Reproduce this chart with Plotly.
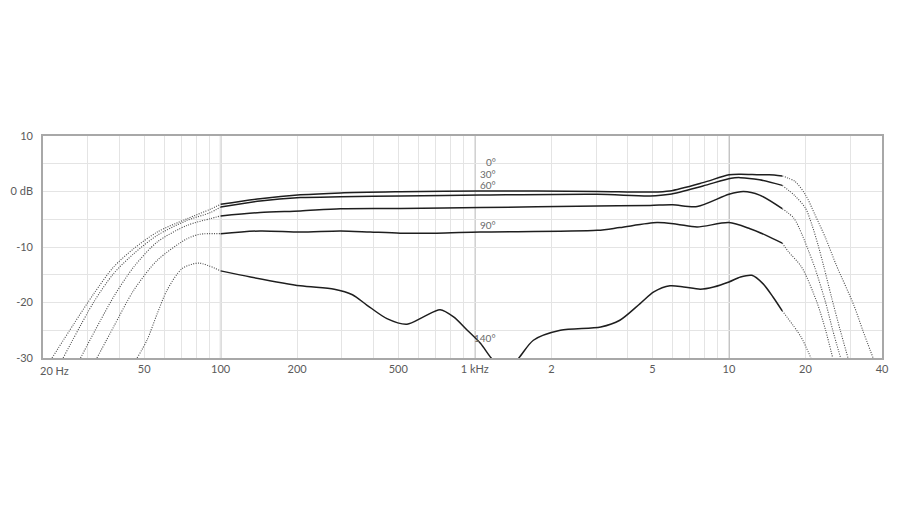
import numpy as np
import plotly.graph_objects as go

# frequency response per angle of incidence (Hz, dB)
freq_0 = [21.7, 26.4, 31.7, 37.9, 45.5, 56.3, 73.8, 91, 100, 143, 206, 296, 509, 1050, 3030, 4900, 5850,
          7900, 10000, 11100, 13200, 14400, 16200, 18200, 20000, 21800, 24000, 26400, 31000, 33600, 36900]
db_0 = [-30, -23.9, -18.4, -13.6, -10.3, -7.3, -4.9, -3.2, -2.3, -1.3, -0.6, -0.25, -0.05, 0.1, 0.0, -0.1, 0.1,
        1.6, 3.0, 3.1, 3.0, 3.0, 2.8, 1.8, -0.6, -4.2, -8.4, -13.2, -20.5, -25, -30]

freq_30 = [24.0, 31.7, 37.9, 45.5, 56.3, 73.8, 91, 100, 143, 206, 296, 509, 1050, 3030, 4900, 5850, 7900,
           10200, 11100, 13200, 16200, 18200, 20000, 21200, 22400, 23600, 25300, 27400, 29400]
db_30 = [-30, -19.9, -14.8, -11.2, -7.9, -5.2, -3.8, -2.8, -1.7, -1.1, -0.95, -0.8, -0.65, -0.5, -0.8, -0.5, 1.0,
         2.4, 2.5, 2.1, 1.1, -0.8, -3.0, -6.0, -9.6, -13.5, -19.0, -25, -30]

freq_60 = [28.1, 37.9, 45.5, 56.3, 73.8, 91, 100, 143, 206, 296, 509, 1050, 3030, 4900, 6000, 7500, 10000,
           11400, 13200, 16200, 18000, 19400, 20600, 21800, 24000, 25600, 27500]
db_60 = [-30, -19, -13.6, -9.1, -6.1, -4.9, -4.4, -3.8, -3.5, -3.1, -3.05, -2.9, -2.6, -2.5, -2.4, -2.7, -0.5,
         0.0, -0.65, -3.1, -4.8, -7.8, -10.8, -13.8, -20, -25, -30]

freq_90 = [32.6, 37.9, 45.5, 56.3, 73.8, 83, 100, 143, 206, 296, 388, 509, 708, 1050, 3030, 3720, 5210, 6240,
           7490, 10000, 12100, 14000, 16200, 17100, 19300, 22200, 24000, 25600]
db_90 = [-30, -24.4, -17.8, -12.4, -8.5, -7.7, -7.6, -7.1, -7.3, -7.1, -7.3, -7.5, -7.5, -7.3, -7.0, -6.5, -5.6, -5.9,
         -6.4, -5.6, -6.7, -7.9, -9.3, -10.8, -13.6, -20, -25, -30]

freq_140 = [46.9, 51.3, 56.3, 61.5, 70.5, 82, 100, 131, 206, 280, 330, 377, 451, 541, 628, 730, 825, 934, 1054,
            1160, 1320, 1490, 1700, 2170, 3130, 3720, 4470, 5060, 5860, 6630, 7720, 8700, 10000, 11100, 12300,
            13600, 14900, 16200, 19200, 21000]
db_140 = [-30, -26.8, -22, -17.8, -13.9, -12.9, -14.3, -15.4, -17.0, -17.6, -18.6, -20.5, -22.9, -23.9, -22.6,
          -21.3, -22.6, -25, -27.4, -30, -32.5, -30, -26.8, -25, -24.4, -23.2, -20.2, -18.1, -17, -17.2, -17.6,
          -17.2, -16.3, -15.4, -15.1, -16.6, -19, -21.5, -26.2, -30]

curves = [("0°", freq_0, db_0), ("30°", freq_30, db_30), ("60°", freq_60, db_60),
          ("90°", freq_90, db_90), ("140°", freq_140, db_140)]

# measured band (solid), outside of it the curves are dotted
SOLID_LO, SOLID_HI = 100, 16200

x_tickvals = [20, 50, 100, 200, 500, 1000, 2000, 5000, 10000, 20000, 40000]
x_ticktext = ["", "50", "100", "200", "500", "1 kHz", "2", "5", "10", "20", "40"]
x_minor = [30, 40, 60, 70, 80, 90, 300, 400, 600, 700, 800, 900, 3000, 4000, 6000, 7000, 8000, 9000, 30000]
y_tickvals = [-30, -25, -20, -15, -10, -5, 0, 5, 10]
y_ticktext = ["-30", "", "-20", "", "-10", "", "0 dB", "", "10"]
label_db = {"0°": 5.4, "30°": 3.2, "60°": 1.1, "90°": -6.1, "140°": -26.4}

FONT = "Lato, 'Open Sans', sans-serif"
X_LO, X_HI = np.log10(20), np.log10(40000)

fig = go.Figure()

for name, f, db in curves:
    f = np.array(f, dtype=float)
    db = np.array(db, dtype=float)
    parts = [(f <= SOLID_LO, "dot"), ((f >= SOLID_LO) & (f <= SOLID_HI), "solid"), (f >= SOLID_HI, "dot")]
    for mask, style in parts:
        solid = style == "solid"
        fig.add_trace(go.Scatter(
            x=f[mask], y=db[mask], mode="lines", name=name, showlegend=False, hoverinfo="skip",
            line=dict(color="#1e1e1e" if solid else "#4a4a4a", width=1.5 if solid else 1.1,
                      dash="solid" if solid else "1px,1.4px", shape="spline", smoothing=0.8)))

# darker decade lines at 100 Hz, 1 kHz, 10 kHz
for dec in [100, 1000, 10000]:
    pos = (np.log10(dec) - X_LO) / (X_HI - X_LO)
    fig.add_shape(type="line", xref="x domain", yref="y domain", x0=pos, x1=pos, y0=0, y1=1,
                  line=dict(color="#b4b4b4", width=1.6), layer="below")

for name, _, _ in curves:
    fig.add_annotation(x=np.log10(1235), y=label_db[name], text=name, showarrow=False, xanchor="right",
                       font=dict(family=FONT, size=10, color="#6a6a6a"))

# first x label sits to the right of its tick
fig.add_annotation(x=X_LO, y=-30, text="20 Hz", showarrow=False, xanchor="left", yanchor="top",
                   xshift=-5, yshift=-4, font=dict(family=FONT, size=11, color="#5a5a5a"))

# the page body has an 8px margin, so the margins are shifted by that amount
fig.update_layout(
    width=906, height=511,
    margin=dict(l=35, r=32, t=128, b=161, autoexpand=False),
    paper_bgcolor="white", plot_bgcolor="white",
    font=dict(family=FONT, size=11, color="#5a5a5a"),
    xaxis=dict(type="log", range=[X_LO, X_HI], tickmode="array", tickvals=x_tickvals, ticktext=x_ticktext,
               showgrid=True, gridcolor="#e4e4e4", gridwidth=1, automargin=False,
               minor=dict(tickvals=x_minor, showgrid=True, gridcolor="#e4e4e4", gridwidth=1, ticks=""),
               showline=True, linecolor="#a8a8a8", linewidth=1.6, mirror=True, ticks="", zeroline=False),
    yaxis=dict(range=[-30, 10], tickmode="array", tickvals=y_tickvals, ticktext=y_ticktext,
               showgrid=True, gridcolor="#e4e4e4", gridwidth=1, automargin=False,
               showline=True, linecolor="#a8a8a8", linewidth=1.6, mirror=True, ticks="", zeroline=False,
               ticklabelstandoff=6),
)

fig.write_html("out.html")
